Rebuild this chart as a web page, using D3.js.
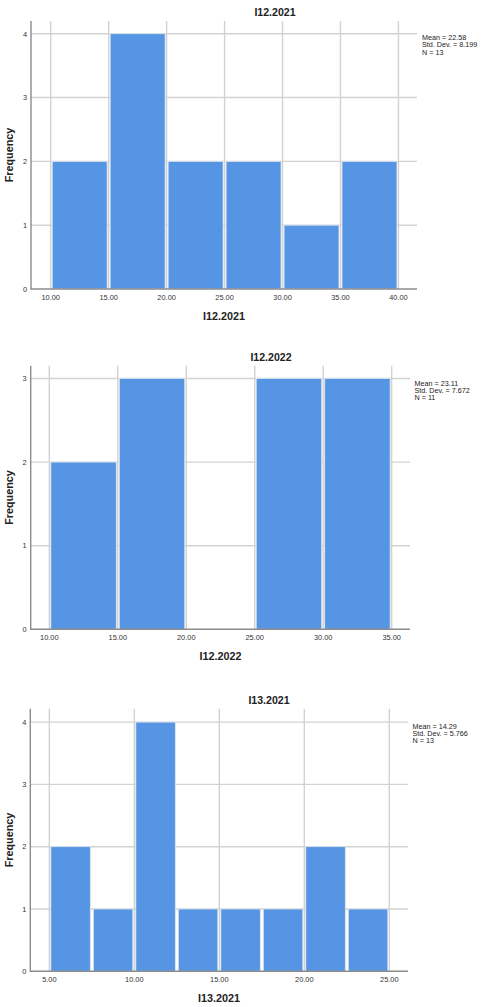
<!DOCTYPE html>
<html><head><meta charset="utf-8">
<script src="https://cdn.jsdelivr.net/npm/d3@7"></script>
<style>
html,body{margin:0;padding:0;background:#fff;}
svg{display:block;font-family:"Liberation Sans",Arial,sans-serif;}
</style></head>
<body>
<script>
// ---- data ----
const titles = ["I12.2021", "I12.2022", "I13.2021"];
const binStarts1 = [10, 15, 20, 25, 30, 35];
const counts1 = [2, 4, 2, 2, 1, 2];
const binWidth1 = 5;
const binStarts2 = [10, 15, 20, 25, 30];
const counts2 = [2, 3, 0, 3, 3];
const binWidth2 = 5;
const binStarts3 = [5, 7.5, 10, 12.5, 15, 17.5, 20, 22.5];
const counts3 = [2, 1, 4, 1, 1, 1, 2, 1];
const binWidth3 = 2.5;
const xTicks1 = [10, 15, 20, 25, 30, 35, 40];
const xTicks2 = [10, 15, 20, 25, 30, 35];
const xTicks3 = [5, 10, 15, 20, 25];
const yTicks1 = [0, 1, 2, 3, 4];
const yTicks2 = [0, 1, 2, 3];
const yTicks3 = [0, 1, 2, 3, 4];
const stats1 = ["Mean = 22.58", "Std. Dev. = 8.199", "N = 13"];
const stats2 = ["Mean = 23.11", "Std. Dev. = 7.672", "N = 11"];
const stats3 = ["Mean = 14.29", "Std. Dev. = 5.766", "N = 13"];

// ---- layout ----
const W = 482, H = 1007;
const svg = d3.select("body").append("svg").attr("width", W).attr("height", H);

const panels = [
  {title: titles[0], starts: binStarts1, counts: counts1, bw: binWidth1, xt: xTicks1, yt: yTicks1, stats: stats1,
   L: 31, R: 417, T: 21, B: 289, xd: [8.3, 41.6], yd: [0, 4.2], titleX: 275, titleY: 16, statX: 422, statY: 40, xLabX: 224, xLabY: 320},
  {title: titles[1], starts: binStarts2, counts: counts2, bw: binWidth2, xt: xTicks2, yt: yTicks2, stats: stats2,
   L: 30.7, R: 410, T: 365.7, B: 629.3, xd: [8.64, 36.34], yd: [0, 3.153], titleX: 271, titleY: 360.5, statX: 414.5, statY: 385.5, xLabX: 220.5, xLabY: 660},
  {title: titles[2], starts: binStarts3, counts: counts3, bw: binWidth3, xt: xTicks3, yt: yTicks3, stats: stats3,
   L: 30.3, R: 408, T: 708.7, B: 971.3, xd: [3.88, 26.1], yd: [0, 4.215], titleX: 269, titleY: 704, statX: 412.5, statY: 728.5, xLabX: 219, xLabY: 1002}
];

panels.forEach(p => {
  const g = svg.append("g");
  const x = d3.scaleLinear().domain(p.xd).range([p.L, p.R]);
  const y = d3.scaleLinear().domain(p.yd).range([p.B, p.T]);

  // gridlines
  g.selectAll(".vg").data(p.xt).enter().append("line")
    .attr("x1", d => x(d)).attr("x2", d => x(d))
    .attr("y1", p.T).attr("y2", p.B)
    .attr("stroke", "#d2d2d2").attr("stroke-width", 1.4);
  g.selectAll(".hg").data(p.yt.filter(d => d > 0)).enter().append("line")
    .attr("x1", p.L).attr("x2", p.R)
    .attr("y1", d => y(d)).attr("y2", d => y(d))
    .attr("stroke", "#d2d2d2").attr("stroke-width", 1.4);

  // bars
  const bins = p.starts.map((s, i) => ({x0: s, x1: s + p.bw, n: p.counts[i]})).filter(b => b.n > 0);
  g.selectAll(".bar").data(bins).enter().append("rect")
    .attr("x", d => x(d.x0) + 1.5)
    .attr("width", d => x(d.x1) - x(d.x0) - 3)
    .attr("y", d => y(d.n))
    .attr("height", d => y(0) - y(d.n))
    .attr("fill", "#5595e4")
    .attr("stroke", "#dfe6ef").attr("stroke-width", 0.8);

  // axes lines
  g.append("line").attr("x1", p.L).attr("x2", p.L).attr("y1", p.T).attr("y2", p.B + 0.8)
    .attr("stroke", "#8c8c8c").attr("stroke-width", 1.4);
  g.append("line").attr("x1", p.L).attr("x2", p.R).attr("y1", p.B).attr("y2", p.B)
    .attr("stroke", "#8c8c8c").attr("stroke-width", 1.4);

  // tick labels
  g.selectAll(".xl").data(p.xt).enter().append("text")
    .attr("x", d => x(d)).attr("y", p.B + 11)
    .attr("text-anchor", "middle").attr("font-size", 7.4).attr("fill", "#333")
    .text(d => d3.format(".2f")(d));
  g.selectAll(".yl").data(p.yt).enter().append("text")
    .attr("x", p.L - 4).attr("y", d => y(d) + 2.8)
    .attr("text-anchor", "end").attr("font-size", 7.4).attr("fill", "#333")
    .text(d => d);

  // titles
  g.append("text").attr("x", p.titleX).attr("y", p.titleY)
    .attr("text-anchor", "middle").attr("font-size", 10.6).attr("font-weight", "bold").attr("fill", "#222")
    .text(p.title);
  g.append("text").attr("x", p.xLabX).attr("y", p.xLabY)
    .attr("text-anchor", "middle").attr("font-size", 10.8).attr("font-weight", "bold").attr("fill", "#222")
    .text(p.title);
  g.append("text")
    .attr("transform", `translate(13,${(p.T + p.B) / 2}) rotate(-90)`)
    .attr("text-anchor", "middle").attr("font-size", 10.8).attr("font-weight", "bold").attr("fill", "#222")
    .text("Frequency");

  // stats
  g.selectAll(".st").data(p.stats).enter().append("text")
    .attr("x", p.statX).attr("y", (d, i) => p.statY + i * 7.3)
    .attr("font-size", 7.2).attr("fill", "#222")
    .text(d => d);
});
</script>
</body></html>
